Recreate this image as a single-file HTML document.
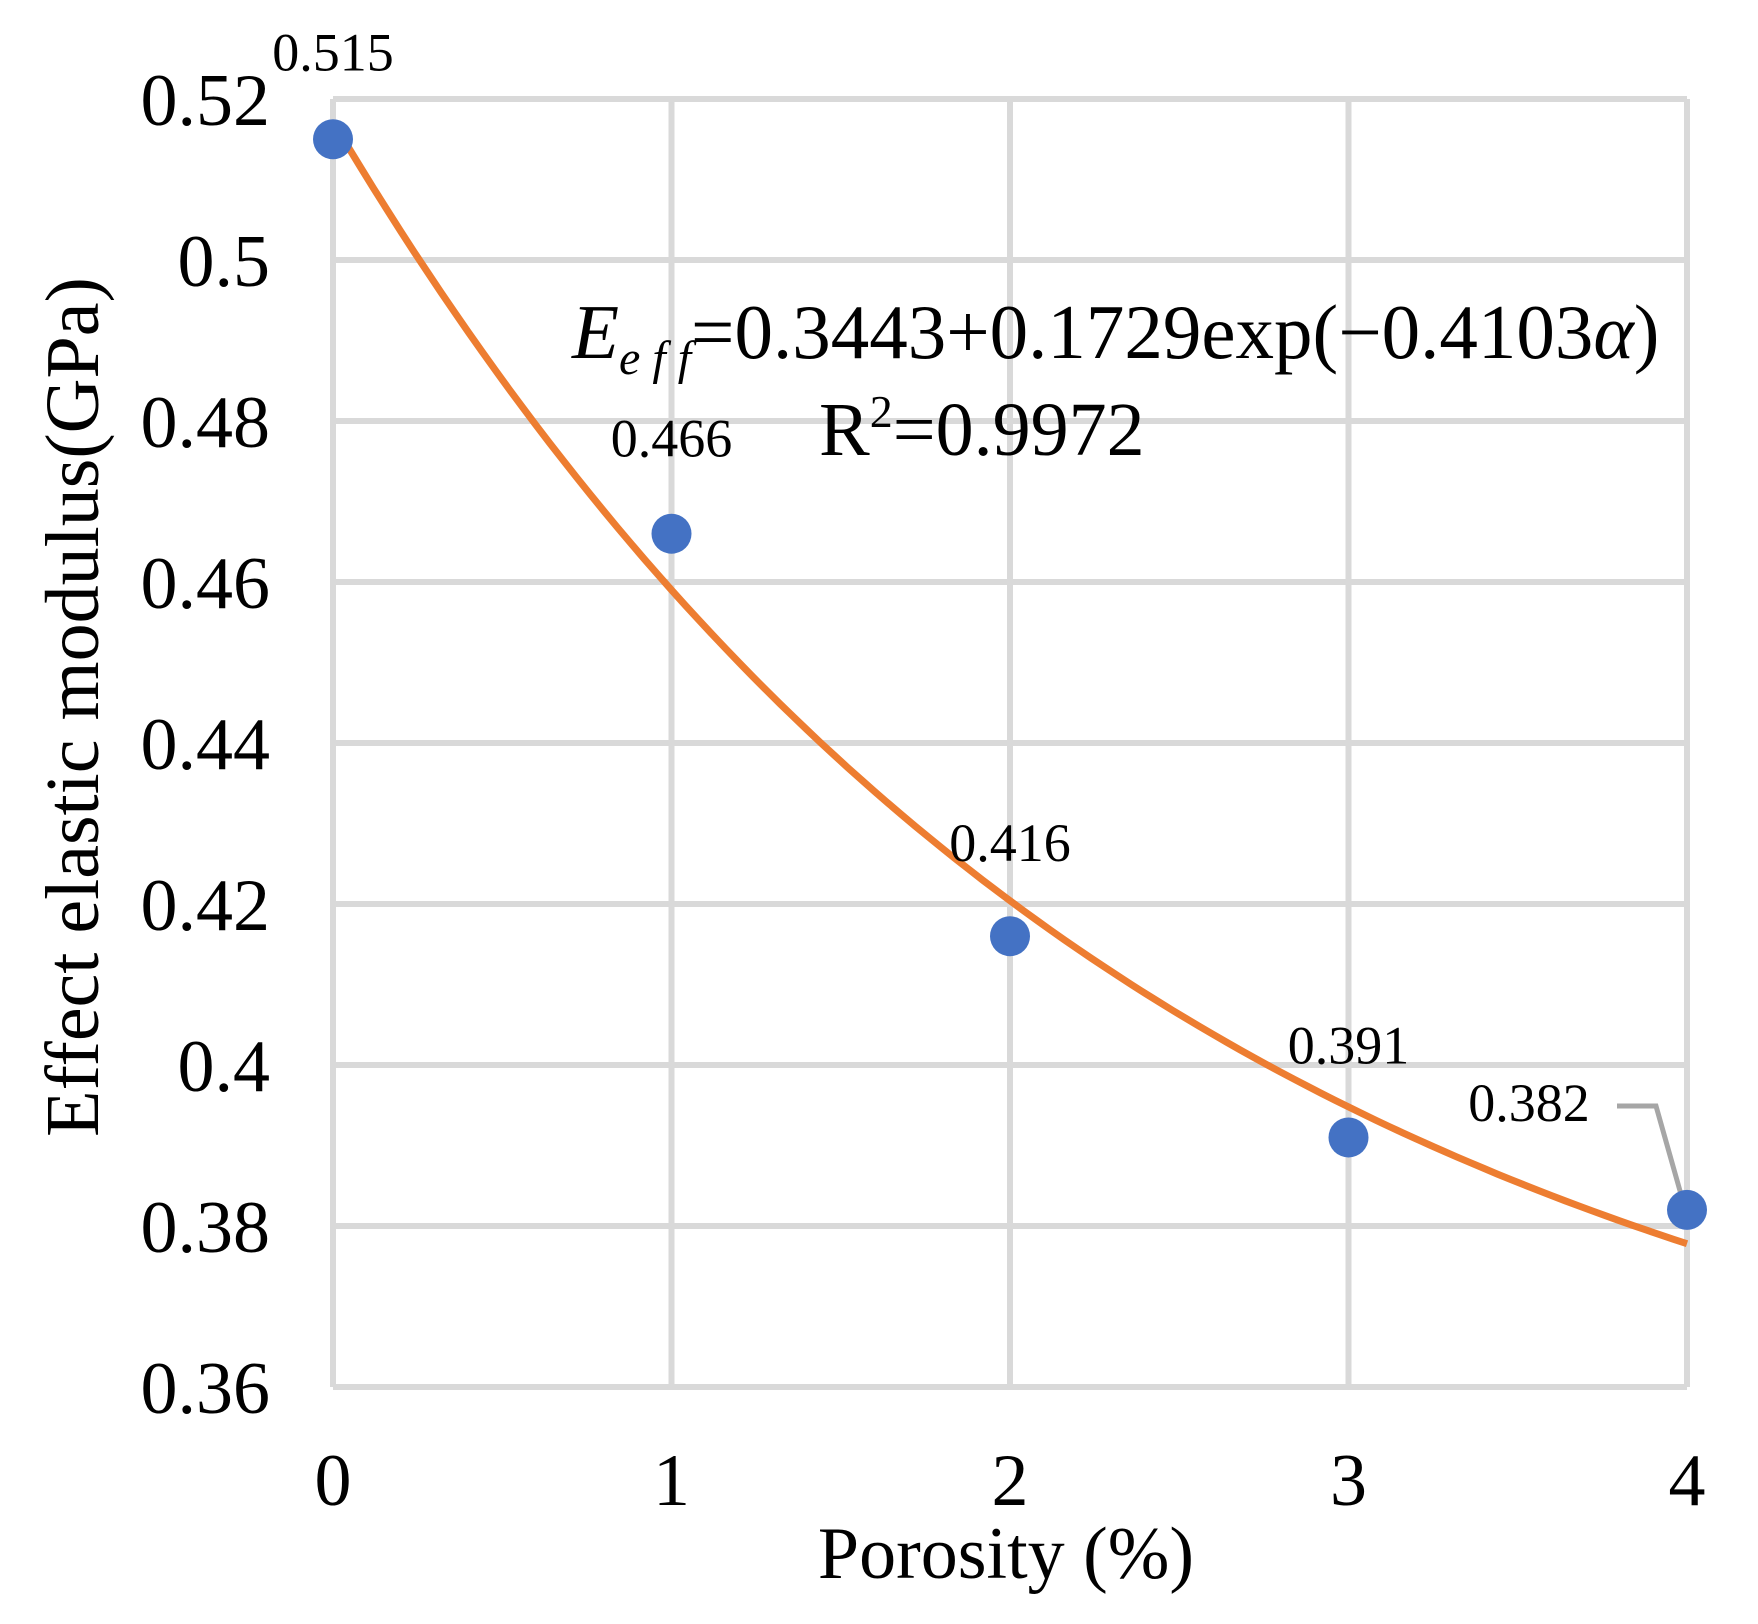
<!DOCTYPE html>
<html><head><meta charset="utf-8"><style>
body{margin:0;background:#fff}
svg{display:block}
text{font-family:"Liberation Serif",serif;fill:#000}
</style></head><body>
<svg width="1758" height="1624" viewBox="0 0 1758 1624">
<g id="grid"></g>
<g id="ticks"></g>
<path id="fit" fill="none" stroke="#ed7d31" stroke-width="7"/>
<polyline points="1617,1106 1656,1106 1684,1205" fill="none" stroke="#a6a6a6" stroke-width="5"/>
<g id="pts"></g>
<text x="572" y="358" font-size="77"><tspan font-style="italic">E</tspan><tspan font-style="italic" font-size="48" dy="16">e f f</tspan><tspan dy="-16">=0.3443+0.1729exp(−0.4103</tspan><tspan font-style="italic">α</tspan>)</text>
<text x="819" y="455" font-size="76">R<tspan font-size="46" dy="-28">2</tspan><tspan dy="28">=0.9972</tspan></text>
<text x="1006" y="1578" font-size="74" text-anchor="middle">Porosity (%)</text>
<text transform="translate(98,707) rotate(-90)" font-size="76" text-anchor="middle">Effect elastic modulus(GPa)</text>
</svg>
<script>
const xs=[0,1,2,3,4];
const ys=[0.515,0.466,0.416,0.391,0.382];
const yTicks=[0.36,0.38,0.4,0.42,0.44,0.46,0.48,0.5,0.52];
const yTickLabels=["0.36","0.38","0.4","0.42","0.44","0.46","0.48","0.5","0.52"];
const xTicks=[0,1,2,3,4];
const fitA=0.3443, fitB=0.1729, fitK=0.4103;
const labelOffsets=[[0,-69],[0,-77],[0,-75],[0,-74],[-158,-89]];
const NS="http://www.w3.org/2000/svg";
const L=333,R=1687,T=99,B=1387;
const X=v=>L+(v-0)/4*(R-L);
const Y=v=>B-(v-0.36)/0.16*(B-T);
function mk(t,a,p){const e=document.createElementNS(NS,t);for(const k in a)e.setAttribute(k,a[k]);p.appendChild(e);return e;}
const g=document.getElementById('grid'),tk=document.getElementById('ticks'),pts=document.getElementById('pts');
yTicks.forEach((v,i)=>{
 const l=mk('line',{x1:L,x2:R,y1:Y(v),y2:Y(v),stroke:'#d9d9d9','stroke-width':6},g);
 
 
 const t=mk('text',{x:270,y:Y(v)+26,'font-size':74,'text-anchor':'end'},tk);
 t.textContent=yTickLabels[i];
 
 
});
xTicks.forEach(v=>{
 const l=mk('line',{x1:X(v),x2:X(v),y1:T,y2:B,stroke:'#d9d9d9','stroke-width':6},g);
 
 
 const t=mk('text',{x:X(v),y:1505,'font-size':74,'text-anchor':'middle'},tk);
 t.textContent=String(v);
 
 
});
let d='';
for(let i=0;i<=100;i++){const a=4*i/100;d+=(i?'L':'M')+X(a).toFixed(1)+','+Y(fitA+fitB*Math.exp(-fitK*a)).toFixed(1);}
document.getElementById('fit').setAttribute('d',d);
xs.forEach((x,i)=>{
 const c=mk('circle',{cx:X(x),cy:Y(ys[i]),r:20,fill:'#4472c4'},pts);
 
 
 const t=mk('text',{x:X(x)+labelOffsets[i][0],y:Y(ys[i])+labelOffsets[i][1],'font-size':54,'text-anchor':'middle'},pts);
 t.textContent=ys[i].toFixed(3);
 
 
});
</script>
</body></html>
